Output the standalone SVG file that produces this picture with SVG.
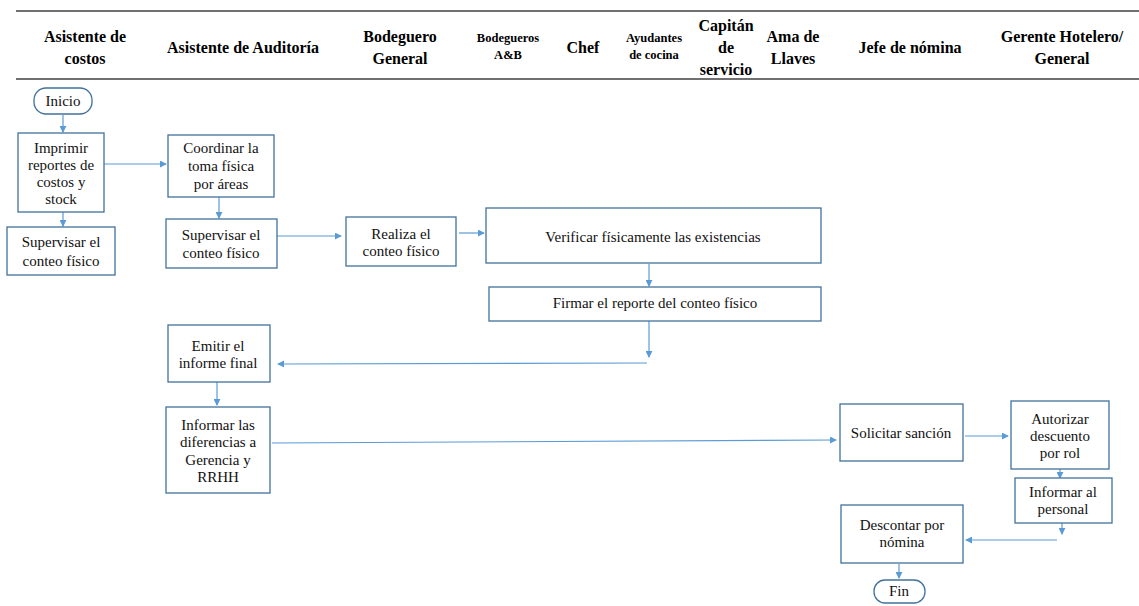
<svg xmlns="http://www.w3.org/2000/svg" width="1139" height="606" viewBox="0 0 1139 606">
  <style>
    .hdr { font-family: "Liberation Serif", "Times New Roman", "DejaVu Serif", serif; font-weight: bold; font-size: 16px; fill: #000; text-anchor: middle; }
    .hdr-s { font-size: 12.5px; }
    .box { fill: #fff; stroke: #41719c; stroke-width: 1.3; }
    .txt { font-family: "Liberation Serif", "Times New Roman", "DejaVu Serif", serif; font-size: 15px; fill: #111; text-anchor: middle; }
    .rule { stroke: #707070; stroke-width: 2.2; }
    .con { fill: none; stroke: #5b9bd5; stroke-width: 1.2; }
  </style>
  <defs>
    <marker id="arrow" viewBox="0 0 8 8" refX="7" refY="4" markerWidth="7" markerHeight="7" markerUnits="userSpaceOnUse" orient="auto">
      <path d="M0,0 L8,4 L0,8 Z" fill="#5b9bd5"/>
    </marker>
  </defs>

  <rect width="1139" height="606" fill="#fff"/>

  <!-- swimlane header -->
  <g id="header">
    <line class="rule" x1="16" y1="11" x2="1139" y2="11"/>
    <line class="rule" x1="16" y1="79" x2="1139" y2="79"/>
    <text class="hdr" x="85" y="42">Asistente de</text>
    <text class="hdr" x="85" y="64">costos</text>
    <text class="hdr" x="243" y="53">Asistente de Auditoría</text>
    <text class="hdr" x="400" y="42">Bodeguero</text>
    <text class="hdr" x="400" y="64">General</text>
    <text class="hdr hdr-s" x="508" y="42">Bodegueros</text>
    <text class="hdr hdr-s" x="508" y="59">A&amp;B</text>
    <text class="hdr" x="583" y="53">Chef</text>
    <text class="hdr hdr-s" x="654" y="42">Ayudantes</text>
    <text class="hdr hdr-s" x="654" y="59">de cocina</text>
    <text class="hdr" x="726" y="31">Capitán</text>
    <text class="hdr" x="726" y="53">de</text>
    <text class="hdr" x="726" y="75">servicio</text>
    <text class="hdr" x="793" y="42">Ama de</text>
    <text class="hdr" x="793" y="64">Llaves</text>
    <text class="hdr" x="910" y="53">Jefe de nómina</text>
    <text class="hdr" x="1062" y="42">Gerente Hotelero/</text>
    <text class="hdr" x="1062" y="64">General</text>
  </g>

  <!-- connectors -->
  <g id="connectors">
    <line class="con" x1="63" y1="115" x2="63" y2="132" marker-end="url(#arrow)"/>
    <line class="con" x1="63" y1="212" x2="63" y2="226" marker-end="url(#arrow)"/>
    <line class="con" x1="104" y1="164" x2="166" y2="164" marker-end="url(#arrow)"/>
    <line class="con" x1="219" y1="197" x2="219" y2="218" marker-end="url(#arrow)"/>
    <line class="con" x1="277" y1="236" x2="341" y2="236" marker-end="url(#arrow)"/>
    <line class="con" x1="459" y1="233" x2="484" y2="233" marker-end="url(#arrow)"/>
    <line class="con" x1="649" y1="264" x2="649" y2="286" marker-end="url(#arrow)"/>
    <line class="con" x1="649" y1="321" x2="649" y2="357" marker-end="url(#arrow)"/>
    <line class="con" x1="647" y1="363" x2="278" y2="364" marker-end="url(#arrow)"/>
    <line class="con" x1="217" y1="382" x2="217" y2="405" marker-end="url(#arrow)"/>
    <line class="con" x1="272" y1="443" x2="836" y2="440" marker-end="url(#arrow)"/>
    <line class="con" x1="965" y1="436" x2="1008" y2="436" marker-end="url(#arrow)"/>
    <line class="con" x1="1060" y1="469" x2="1060" y2="478" marker-end="url(#arrow)"/>
    <line class="con" x1="1062" y1="523" x2="1062" y2="534" marker-end="url(#arrow)"/>
    <line class="con" x1="1057" y1="540" x2="966" y2="540" marker-end="url(#arrow)"/>
    <line class="con" x1="899" y1="564" x2="899" y2="578" marker-end="url(#arrow)"/>
  </g>

  <!-- nodes -->
  <g id="inicio">
    <rect class="box" x="34" y="88" width="58" height="26" rx="12"/>
    <text class="txt" x="63" y="106">Inicio</text>
  </g>
  <g id="imprimir">
    <rect class="box" x="18" y="133" width="86" height="79"/>
    <text class="txt" x="61" y="153">Imprimir</text>
    <text class="txt" x="61" y="170">reportes de</text>
    <text class="txt" x="61" y="187">costos y</text>
    <text class="txt" x="61" y="204">stock</text>
  </g>
  <g id="supervisar-costos">
    <rect class="box" x="7" y="227" width="108" height="48"/>
    <text class="txt" x="61" y="247">Supervisar el</text>
    <text class="txt" x="61" y="266">conteo físico</text>
  </g>
  <g id="coordinar">
    <rect class="box" x="168" y="135" width="106" height="62"/>
    <text class="txt" x="221" y="153">Coordinar la</text>
    <text class="txt" x="221" y="171">toma física</text>
    <text class="txt" x="221" y="189">por áreas</text>
  </g>
  <g id="supervisar-auditoria">
    <rect class="box" x="166" y="219" width="111" height="49"/>
    <text class="txt" x="221" y="240">Supervisar el</text>
    <text class="txt" x="221" y="258">conteo físico</text>
  </g>
  <g id="realiza">
    <rect class="box" x="346" y="217" width="110" height="49"/>
    <text class="txt" x="401" y="239">Realiza el</text>
    <text class="txt" x="401" y="256">conteo físico</text>
  </g>
  <g id="verificar">
    <rect class="box" x="486" y="208" width="335" height="55"/>
    <text class="txt" x="653" y="242">Verificar físicamente las existencias</text>
  </g>
  <g id="firmar">
    <rect class="box" x="489" y="287" width="332" height="34"/>
    <text class="txt" x="655" y="308">Firmar el reporte del conteo físico</text>
  </g>
  <g id="emitir">
    <rect class="box" x="168" y="325" width="102" height="57"/>
    <text class="txt" x="218" y="351">Emitir el</text>
    <text class="txt" x="218" y="368">informe final</text>
  </g>
  <g id="informar-diferencias">
    <rect class="box" x="166" y="407" width="104" height="86"/>
    <text class="txt" x="218" y="430">Informar las</text>
    <text class="txt" x="218" y="447">diferencias a</text>
    <text class="txt" x="218" y="465">Gerencia y</text>
    <text class="txt" x="218" y="482">RRHH</text>
  </g>
  <g id="solicitar">
    <rect class="box" x="840" y="404" width="123" height="57"/>
    <text class="txt" x="901" y="438">Solicitar sanción</text>
  </g>
  <g id="autorizar">
    <rect class="box" x="1011" y="401" width="98" height="68"/>
    <text class="txt" x="1060" y="424">Autorizar</text>
    <text class="txt" x="1060" y="441">descuento</text>
    <text class="txt" x="1060" y="458">por rol</text>
  </g>
  <g id="informar-personal">
    <rect class="box" x="1015" y="478" width="97" height="45"/>
    <text class="txt" x="1063" y="497">Informar al</text>
    <text class="txt" x="1063" y="514">personal</text>
  </g>
  <g id="descontar">
    <rect class="box" x="841" y="505" width="122" height="58"/>
    <text class="txt" x="902" y="530">Descontar por</text>
    <text class="txt" x="902" y="547">nómina</text>
  </g>
  <g id="fin">
    <rect class="box" x="874" y="580" width="51" height="23" rx="11"/>
    <text class="txt" x="899" y="596">Fin</text>
  </g>
</svg>
